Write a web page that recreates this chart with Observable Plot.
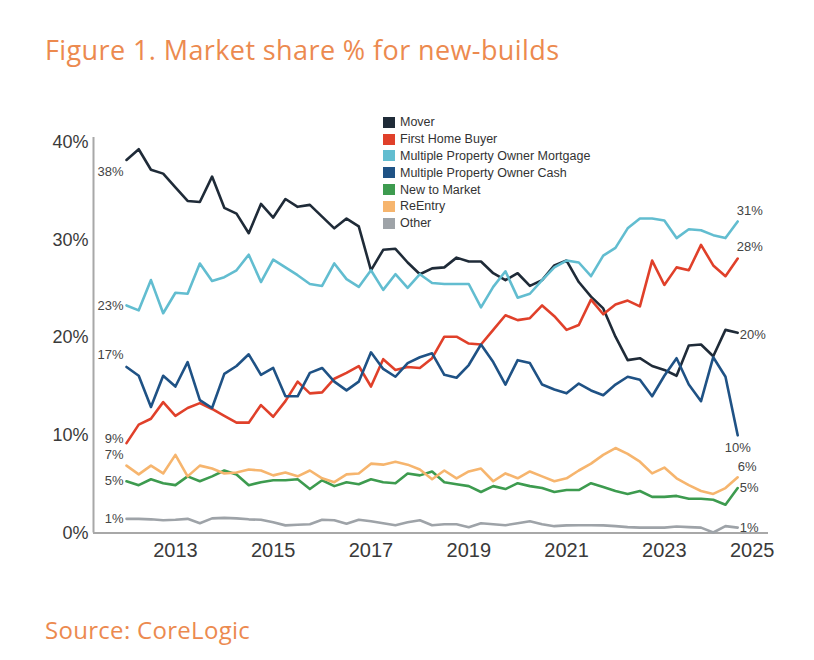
<!DOCTYPE html>
<html>
<head>
<meta charset="utf-8">
<script src="https://cdn.jsdelivr.net/npm/d3@7"></script>
<script src="https://cdn.jsdelivr.net/npm/@observablehq/plot@0.6"></script>
<style>
  body { margin: 0; background: #fff; }
  #wrap { position: relative; width: 814px; height: 660px; font-family: "Liberation Sans", Arial, sans-serif; overflow: hidden; }
  #title { position: absolute; left: 45px; top: 34px; font-family: "Open Sans", sans-serif; font-size: 27px; letter-spacing: 0.4px; line-height: 32px; color: #ec8a4f; white-space: nowrap; }
  #chart { position: absolute; left: 0; top: 100px; }
  #source { position: absolute; left: 45px; top: 614px; font-family: "Open Sans", sans-serif; font-size: 24px; letter-spacing: 0.3px; line-height: 32px; color: #ec8a4f; white-space: nowrap; }
  #legend { position: absolute; left: 383px; top: 114px; font-size: 12.5px; color: #333; }
  #legend .row { height: 16.8px; display: flex; align-items: center; white-space: nowrap; }
  #legend .sw { width: 12px; height: 11px; margin-right: 5px; }
</style>
</head>
<body>
<div id="wrap">
  <div id="title">Figure 1. Market share % for new-builds</div>
  <div id="legend"></div>
  <div id="chart"></div>
  <div id="source">Source: CoreLogic</div>
</div>
<script>
// ---- data (quarterly 2012 Q1 – 2024 Q3) ----
const series = ["Mover", "First Home Buyer", "Multiple Property Owner Mortgage", "Multiple Property Owner Cash", "New to Market", "ReEntry", "Other"];
const colors = ["#1f2b38", "#e0402a", "#62bdd0", "#1f5285", "#3d9b4f", "#f6b56e", "#9ea3a8"];

const mover = [38.2,39.3,37.2,36.8,35.4,34.0,33.9,36.5,33.3,32.7,30.7,
  33.7,32.3,34.2,33.4,33.6,32.4,31.2,32.2,31.4,26.9,
  29.0,29.1,27.7,26.5,27.1,27.2,28.2,27.8,27.8,26.6,
  25.9,26.6,25.3,25.9,27.4,27.9,25.7,24.2,23.0,20.1,
  17.7,17.9,17.1,16.7,16.1,19.2,19.3,18.1,20.8,20.5];
const firstHomeBuyer = [9.2,11.1,11.7,13.4,12.0,12.8,13.3,12.7,12.0,11.3,11.3,
  13.1,11.9,13.5,15.5,14.3,14.4,15.8,16.4,17.1,15.0,
  17.8,16.7,17.0,16.9,17.9,20.1,20.1,19.4,19.3,20.8,
  22.3,21.8,22.0,23.3,22.2,20.8,21.3,23.9,22.4,23.4,
  23.8,23.2,27.9,25.4,27.2,26.9,29.5,27.4,26.3,28.1];
const mpoMortgage = [23.3,22.8,25.9,22.5,24.6,24.5,27.6,25.8,26.2,26.9,28.5,
  25.7,28.0,27.2,26.4,25.5,25.3,27.6,26.0,25.2,26.9,
  24.9,26.5,25.1,26.5,25.6,25.5,25.5,25.5,23.1,25.2,
  26.8,24.1,24.5,25.9,27.2,27.9,27.7,26.3,28.4,29.2,
  31.2,32.2,32.2,32.0,30.2,31.1,31.0,30.5,30.2,31.9];
const mpoCash = [17.0,16.1,12.9,16.1,15.0,17.5,13.6,12.8,16.3,17.1,18.3,
  16.2,16.9,14.0,14.0,16.4,16.9,15.5,14.6,15.5,18.5,
  16.8,16.0,17.4,18.0,18.4,16.2,15.9,17.2,19.3,17.5,
  15.2,17.7,17.4,15.2,14.7,14.3,15.3,14.6,14.1,15.2,
  16.0,15.7,14.0,16.1,17.9,15.2,13.5,18.0,16.0,10.0];
const newToMarket = [5.3,4.9,5.5,5.1,4.9,5.8,5.3,5.8,6.4,6.0,4.9,
  5.2,5.4,5.4,5.5,4.5,5.4,4.8,5.2,5.0,5.5,
  5.2,5.1,6.1,5.9,6.3,5.2,5.0,4.8,4.2,4.8,
  4.5,5.1,4.8,4.6,4.2,4.4,4.4,5.1,4.7,4.3,
  4.0,4.3,3.7,3.7,3.8,3.5,3.5,3.4,2.9,4.6];
const reEntry = [6.9,6.0,6.9,6.1,8.0,5.8,6.9,6.6,6.1,6.2,6.5,
  6.4,5.9,6.2,5.8,6.4,5.6,5.2,6.0,6.1,7.1,
  7.0,7.3,7.0,6.5,5.5,6.4,5.6,6.3,6.6,5.3,
  6.1,5.6,6.3,5.8,5.3,5.6,6.4,7.1,8.0,8.7,
  8.1,7.3,6.1,6.7,5.6,4.9,4.3,4.0,4.6,5.7];
const other = [1.45,1.45,1.4,1.3,1.35,1.45,1.0,1.5,1.55,1.5,1.4,
  1.35,1.1,0.78,0.85,0.9,1.35,1.3,0.95,1.35,1.2,
  1.0,0.8,1.1,1.3,0.8,0.9,0.9,0.6,1.0,0.9,
  0.8,1.0,1.2,0.9,0.7,0.78,0.8,0.8,0.78,0.7,
  0.6,0.55,0.55,0.55,0.67,0.6,0.55,0.05,0.7,0.55];

const startLabels = ["38%", "9%", "23%", "17%", "5%", "7%", "1%"];
const endLabels   = ["20%", "28%", "31%", "10%", "5%", "6%", "1%"];
const yTicks = [0, 10, 20, 30, 40];
const xTicks = [2013, 2015, 2017, 2019, 2021, 2023, 2025];

// quarter positions (decimal years), first quarter 2012 Q1
const firstYear = 2012;
const values = [mover, firstHomeBuyer, mpoMortgage, mpoCash, newToMarket, reEntry, other];
const quarters = mover.map((_, i) => firstYear + i / 4);

const rows = [];
series.forEach((s, k) => values[k].forEach((v, i) => rows.push({series: s, t: quarters[i], v})));

// label styling (offsets in px) kept separate from the data
const startStyle = [
  {dx: -3, dy: 12, anchor: "end"}, {dx: -3, dy: -4, anchor: "end"}, {dx: -3, dy: 0, anchor: "end"},
  {dx: -3, dy: -12, anchor: "end"}, {dx: -3, dy: 0, anchor: "end"}, {dx: -3, dy: -11, anchor: "end"},
  {dx: -3, dy: 0, anchor: "end"}
];
const endStyle = [
  {dx: 2, dy: 2, anchor: "start"}, {dx: -1, dy: -12, anchor: "start"}, {dx: -1, dy: -11, anchor: "start"},
  {dx: 0, dy: 12, anchor: "middle"}, {dx: 2, dy: 0, anchor: "start"}, {dx: 0, dy: -11, anchor: "start"},
  {dx: 2, dy: 0, anchor: "start"}
];

const labelMarks = [];
series.forEach((s, k) => {
  const vals = values[k];
  labelMarks.push(Plot.text([{t: quarters[0], v: vals[0], label: startLabels[k]}], {
    x: "t", y: "v", text: "label", textAnchor: startStyle[k].anchor, dx: startStyle[k].dx, dy: startStyle[k].dy,
    fontSize: 13, fill: "#444"
  }));
  const n = vals.length - 1;
  labelMarks.push(Plot.text([{t: quarters[n], v: vals[n], label: endLabels[k]}], {
    x: "t", y: "v", text: "label", textAnchor: endStyle[k].anchor, dx: endStyle[k].dx, dy: endStyle[k].dy,
    fontSize: 13, fill: "#444"
  }));
});

const xMin = 2011.325, xMax = 2025.13;

const chart = Plot.plot({
  width: 814,
  height: 500,
  marginLeft: 93,
  marginRight: 46,
  marginTop: 37,
  marginBottom: 67.5,
  style: {fontFamily: "'Liberation Sans', Arial, sans-serif", color: "#3a3a3a", background: "transparent"},
  x: {domain: [xMin, xMax]},
  y: {domain: [0, 40.5]},
  color: {domain: series, range: colors},
  marks: [
    Plot.ruleX([xMin], {stroke: "#a8a8a8", strokeWidth: 2}),
    Plot.ruleY([0], {stroke: "#a8a8a8", strokeWidth: 2}),
    Plot.axisY({ticks: yTicks, tickFormat: d => d + "%", tickSize: 0, tickPadding: 5, fontSize: 18, label: null}),
    Plot.axisX({ticks: xTicks.slice(0, -1), tickFormat: d => String(d), tickSize: 0, tickPadding: 10,
      fontSize: 20, fontFamily: "'Liberation Sans Narrow', 'Arial Narrow', 'Liberation Sans', sans-serif", label: null}),
    Plot.axisX({ticks: xTicks.slice(-1), tickFormat: d => String(d), tickSize: 0, tickPadding: 10, dx: -10,
      fontSize: 20, fontFamily: "'Liberation Sans Narrow', 'Arial Narrow', 'Liberation Sans', sans-serif", label: null}),
    Plot.line(rows, {x: "t", y: "v", z: "series", stroke: "series", strokeWidth: 2.6, strokeLinejoin: "round"}),
    ...labelMarks
  ]
});
document.getElementById("chart").appendChild(chart);

// legend
const legend = document.getElementById("legend");
series.forEach((s, k) => {
  const row = document.createElement("div");
  row.className = "row";
  const sw = document.createElement("span");
  sw.className = "sw";
  sw.style.background = colors[k];
  const tx = document.createElement("span");
  tx.textContent = s;
  row.appendChild(sw);
  row.appendChild(tx);
  legend.appendChild(row);
});
</script>
</body>
</html>
